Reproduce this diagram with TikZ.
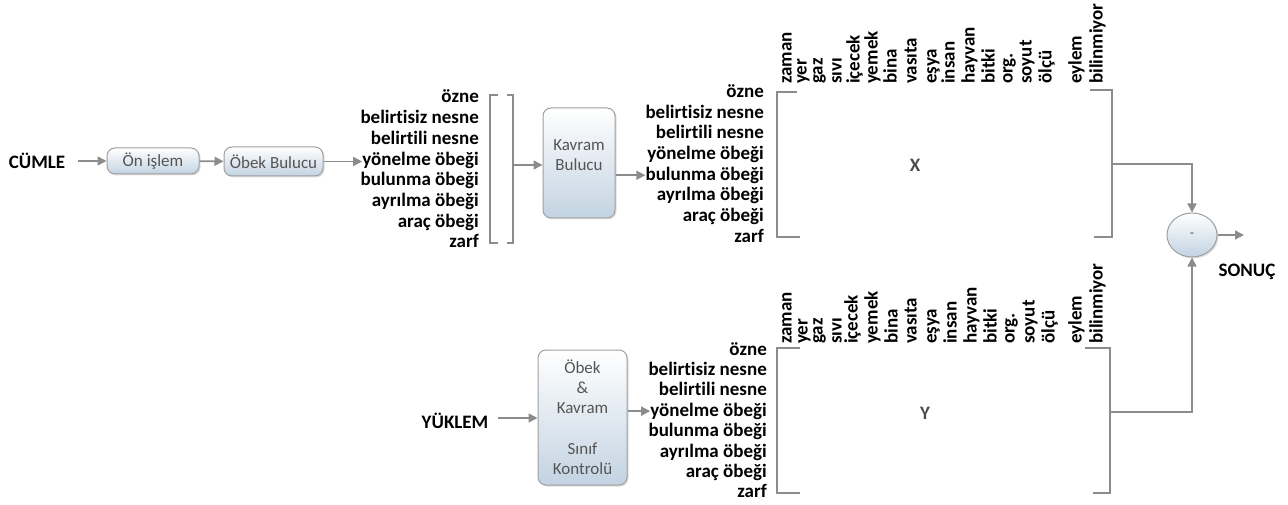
\documentclass[tikz,border=0pt]{standalone}
\usepackage{fontspec}
\setmainfont{Carlito}[Ligatures=NoCommon]
\usetikzlibrary{arrows.meta,shapes.geometric,shadows}
\definecolor{lgray}{HTML}{8C8C8C}
\definecolor{boxtxt}{HTML}{555555}
\definecolor{boxbot}{HTML}{C3D3E2}
\tikzset{
  arr/.style={draw=lgray,line width=1.6pt,-{Triangle[length=9pt,width=9pt]}},
  brk/.style={draw=lgray,line width=1.5pt},
  lbl/.style={font=\fontsize{19}{20.7}\selectfont\bfseries,text=black,inner sep=0pt},
  col/.style={font=\fontsize{19}{20.7}\selectfont\bfseries,text=black,inner sep=0pt,rotate=90,anchor=base west},
  procbox/.style={draw=gray!75,line width=1pt,rounded corners=8pt,top color=white,bottom color=boxbot,
    font=\fontsize{17}{20}\selectfont,text=boxtxt,align=center,inner sep=0pt,
    drop shadow={opacity=0.25,shadow xshift=1.5pt,shadow yshift=-1.5pt}},
  mlabel/.style={font=\fontsize{19}{20}\selectfont\bfseries,text=black!70}
}
\begin{document}
\begin{tikzpicture}[x=1pt,y=-1pt]
\useasboundingbox (0,0) rectangle (1288,505);

% first row
\node[lbl] (cumle) at (37,161) {CÜMLE};
\node[procbox,minimum width=92pt,minimum height=26pt] (onis) at (153,161) {Ön işlem};
\node[procbox,minimum width=99pt,minimum height=29pt] (obek) at (273.5,161.5) {Öbek Bulucu};
\draw[arr] (cumle.east) ++(13,0) coordinate (cst) (cst) -- (onis);
\draw[arr] (onis) -- (obek);

% list 1
\foreach \t [count=\i] in {özne,belirtisiz nesne,belirtili nesne,yönelme öbeği,bulunma öbeği,ayrılma öbeği,araç öbeği,zarf}
  \node[lbl,anchor=base east] (la\i) at (479,{103+(\i-1)*20.7}) {\t};
\draw[arr] (obek.east) -- (obek.east -| la4.west) coordinate (tmp1);
\draw[brk] (498,95) -- (490,95) -- (490,243) -- (498,243);
\draw[brk] (507,95) -- (513,95) -- (513,243) -- (507,243);
\coordinate (b1out) at (513,165);

% Kavram Bulucu
\node[procbox,minimum width=72pt,minimum height=110pt] (kb) at (579,163) {};
\node[font=\fontsize{17}{20}\selectfont,text=boxtxt,align=center,inner sep=0pt] (kbt) at (579,155) {Kavram\\Bulucu};
\draw[arr] (b1out) -- (b1out -| kb.west);

% list 2
\foreach \t [count=\i] in {özne,belirtisiz nesne,belirtili nesne,yönelme öbeği,bulunma öbeği,ayrılma öbeği,araç öbeği,zarf}
  \node[lbl,anchor=base east] (lb\i) at (764,{97.5+(\i-1)*20.7}) {\t};
\draw[arr] (kb.east |- lb5.west) -- (lb5.west);

% matrix X
\draw[brk] (797,92) -- (777,92) -- (777,237) -- (800,237);
\draw[brk] (1090,90) -- (1112,90) -- (1112,237) -- (1094,237);
\foreach \t/\x [count=\i] in {zaman/787,yer/802,gaz/818,sıvı/837,içecek/855,yemek/873,bina/892,vasıta/912,eşya/932,insan/950,hayvan/970,bitki/990,org./1008,soyut/1027,ölçü/1047,eylem/1077,bilinmiyor/1098}
  \node[col] (xc\i) at (\x+4.5,84) {\t};
\node[mlabel] (xl) at (915,165) {X};
\coordinate (xout) at (1112,164);

% second row
\node[lbl] (yuk) at (455,421) {YÜKLEM};
\node[procbox,minimum width=89pt,minimum height=135pt] (ok) at (582.5,417.5)
  {Öbek\\\&\\Kavram\\[21pt]Sınıf\\Kontrolü};
\draw[arr] (yuk.east) ++(10,-3) coordinate (yst) (yst) -- (yst -| ok.west);
\foreach \t [count=\i] in {özne,belirtisiz nesne,belirtili nesne,yönelme öbeği,bulunma öbeği,ayrılma öbeği,araç öbeği,zarf}
  \node[lbl,anchor=base east] (lc\i) at (767,{355+(\i-1)*20.4}) {\t};
\draw[arr] (ok.east |- lc4.west) -- (lc4.west);

% matrix Y
\draw[brk] (800,348) -- (777,348) -- (777,493) -- (800,493);
\draw[brk] (1085,348) -- (1110,348) -- (1110,493) -- (1093,493);
\foreach \t/\x [count=\i] in {zaman/787,yer/803,gaz/818,sıvı/837,içecek/853,yemek/873,bina/893,vasıta/912,eşya/932,insan/952,hayvan/972,bitki/992,org./1010,soyut/1030,ölçü/1050,eylem/1077,bilinmiyor/1098}
  \node[col] (yc\i) at (\x+4.5,344) {\t};
\node[mlabel] (yl) at (925,413) {Y};
\coordinate (yout) at (1110,412);

% sum
\node[ellipse,draw=gray!75,line width=1pt,top color=white,bottom color=boxbot,minimum width=50pt,minimum height=44pt,inner sep=0pt,text=boxtxt,font=\fontsize{14}{16}\selectfont,
  drop shadow={opacity=0.25,shadow xshift=1.5pt,shadow yshift=-1.5pt}] (sum) at (1192,235) {-};
\draw[arr] (xout) -| (sum);
\draw[arr] (yout) -| (sum);
\coordinate (res) at (1244,235);
\draw[arr] (sum) -- (res);
\node[lbl] (sonuc) at (1247,272) {SONUÇ};
\end{tikzpicture}
\end{document}
